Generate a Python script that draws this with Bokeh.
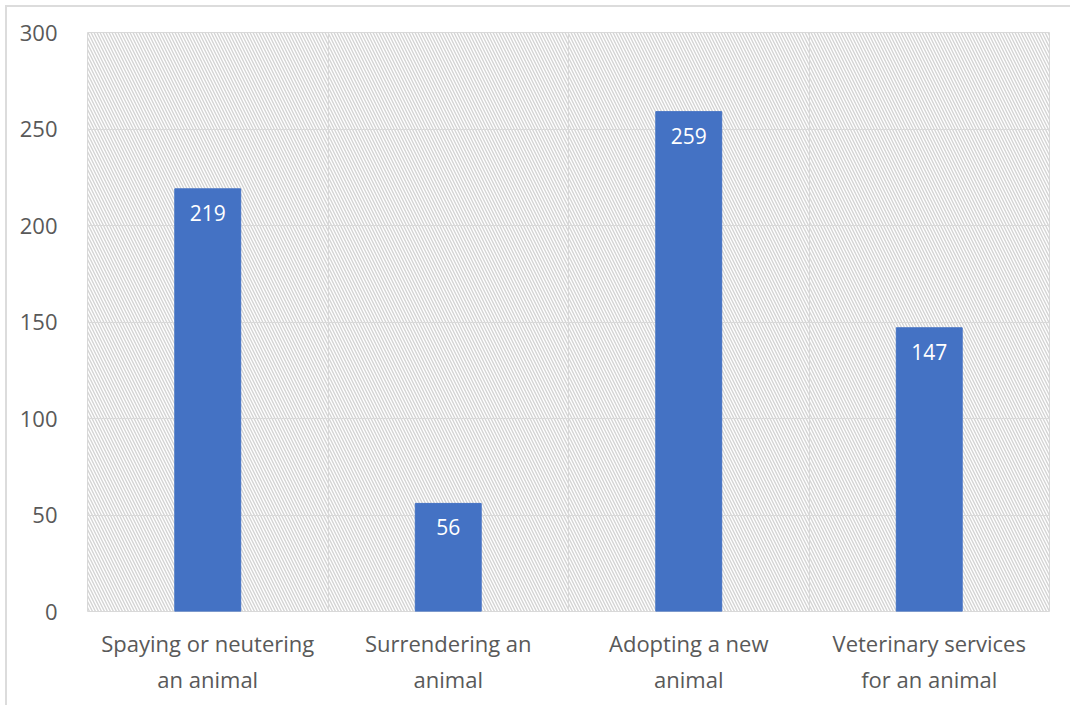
from bokeh.plotting import figure
from bokeh.models import BoxAnnotation, FixedTicker, ColumnDataSource, Range1d
from bokeh.core.properties import value
from bokeh.embed import file_html
from bokeh.resources import INLINE

categories = ["Spaying or neutering\nan animal", "Surrendering an\nanimal",
              "Adopting a new\nanimal", "Veterinary services\nfor an animal"]
values = [219, 56, 259, 147]
y_ticks = [0, 50, 100, 150, 200, 250, 300]

xs = [i + 0.5 for i in range(len(categories))]
src = ColumnDataSource(dict(x=xs, top=values, label=[str(v) for v in values]))

p = figure(width=1065, height=700, output_backend="svg", toolbar_location=None,
           x_range=Range1d(0, len(categories)), y_range=Range1d(0, 300),
           min_border_left=80, min_border_right=23, min_border_top=25, min_border_bottom=96,
           margin=(5, 0, 0, 5),
           styles={"border-left": "2px solid #dcdcdc", "border-top": "2px solid #dcdcdc"})
p.background_fill_color = "white"
p.border_fill_color = "white"
p.outline_line_color = "#d9d9d9"
p.outline_line_width = 1

# hatched plot background
p.add_layout(BoxAnnotation(level="image", fill_alpha=0, line_alpha=0,
                           hatch_pattern="left_diagonal_line", hatch_color="#d4d4d4",
                           hatch_scale=6, hatch_weight=1.4))

p.vbar(x="x", top="top", width=0.274, bottom=0, source=src, fill_color="#4472C4",
       line_color="#4472C4")
p.text(x="x", y="top", text="label", source=src, text_color="white",
       text_font_size="21px", text_font=value("Open Sans"), text_align="center",
       text_baseline="top", y_offset=16)

p.ygrid.ticker = FixedTicker(ticks=y_ticks)
p.ygrid.grid_line_color = "#d9d9d9"
p.xgrid.ticker = FixedTicker(ticks=list(range(len(categories) + 1)))
p.xgrid.grid_line_color = "#d9d9d9"

p.yaxis.ticker = FixedTicker(ticks=y_ticks)
p.xaxis.ticker = FixedTicker(ticks=xs)
p.xaxis.major_label_overrides = {x: c for x, c in zip(xs, categories)}

for ax in (p.xaxis, p.yaxis):
    ax.axis_line_color = None
    ax.major_tick_line_color = None
    ax.minor_tick_line_color = None
    ax.major_label_text_font = "Open Sans"
    ax.major_label_text_font_size = "22px"
    ax.major_label_text_color = "#595959"
p.yaxis.major_label_standoff = 24
p.xaxis.major_label_standoff = 10

open("out.html", "w").write(file_html(p, INLINE))
